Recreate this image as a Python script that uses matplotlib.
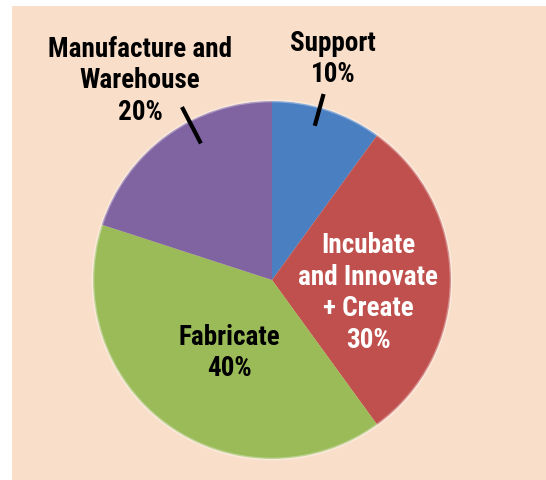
import numpy as np
import matplotlib
matplotlib.use("Agg")
import matplotlib.pyplot as plt
from matplotlib.patches import Rectangle, Circle

# slices, clockwise from 12 o'clock
labels = ["Support", "Incubate\nand Innovate\n+ Create", "Fabricate", "Manufacture and\nWarehouse"]
shares = [10, 30, 40, 20]
colors = ["#4a7fc2", "#c0504d", "#9bbb59", "#8064a2"]
text_colors = ["black", "white", "black", "black"]

W, H = 546, 481
fig = plt.figure(figsize=(W / 100, H / 100), dpi=100)
fig.patch.set_facecolor("white")
ax = fig.add_axes([0, 0, 1, 1])

# peach panel
ax.add_patch(Rectangle((12, 0), W - 12, H - 7, facecolor="#f9dfca", edgecolor="none", zorder=0))

cx, cy, r = 272, H - 281, 179
wedges, _ = ax.pie(shares, colors=colors, startangle=90, counterclock=False,
                   center=(cx, cy), radius=r, frame=True,
                   wedgeprops=dict(linewidth=0, edgecolor="none"))
ax.set_xlim(0, W)
ax.set_ylim(0, H)
ax.set_aspect("equal")
ax.axis("off")
for w in wedges:
    w.set_zorder(2)
# soft light rim
ax.add_patch(Circle((cx, cy), r, facecolor="none", edgecolor="white", alpha=0.35, lw=2, zorder=3))

font = ["Roboto Condensed", "DejaVu Sans"]
# label centres (pixels from top-left)
label_pos = [(333, 59), (368, 293), (229, 353), (140, 81)]
for lab, pct, (x, y), tc in zip(labels, shares, label_pos, text_colors):
    ax.text(x, H - y, f"{lab}\n{pct}%", ha="center", va="center", family=font,
            fontweight="bold", fontsize=19.5, color=tc, linespacing=1.22, zorder=5)

# leader lines: (angle deg, inner r, outer r)
leaders = [(74.5, 160, 193), (117.5, 154, 195)]
for ang, r0, r1 in leaders:
    a = np.deg2rad(ang)
    ax.plot([cx + r0 * np.cos(a), cx + r1 * np.cos(a)],
            [cy + r0 * np.sin(a), cy + r1 * np.sin(a)],
            color="black", lw=3, solid_capstyle="butt", zorder=6)

fig.savefig("out.png", dpi=100, facecolor=fig.get_facecolor())
